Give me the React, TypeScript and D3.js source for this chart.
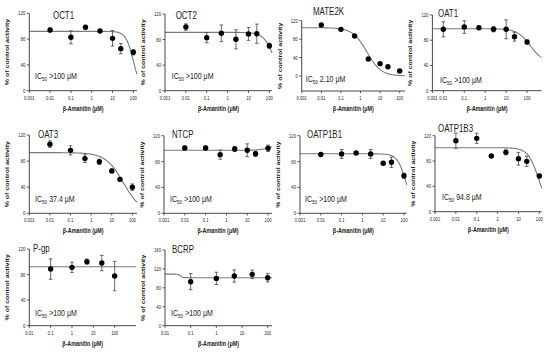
import React from "react";
import * as d3 from "d3";

// ---------- data ----------
const CONC7 = [0.01, 0.1, 0.5, 2.5, 10, 25, 100];
const CONC5 = [0.1, 1, 5, 25, 100];

const X_TICKS_A = [0.001, 0.01, 0.1, 1, 10, 100];
const X_TICKS_B = [0.01, 0.1, 1, 10, 100];
const Y_TICKS_120 = [0, 40, 80, 120];
const Y_TICKS_160 = [0, 40, 80, 120, 160];

const OCT1_VAL = [94.1, 82.8, 98.3, 92.6, 81.2, 65.2, 59.5];
const OCT1_ERR = [3, 10, 3, 2, 12, 8, 4];
const OCT1_FIT = [92, 0, 100, 2.4];

const OCT2_VAL = [99.6, 83, 89.8, 80.4, 88.8, 89.2, 70.4];
const OCT2_ERR = [5, 8, 13, 15, 10, 15, 4];
const OCT2_FIT = [91.3, 0, 190, 1.7];

const MATE2K_VAL = [110.6, 101.2, 86.8, 36.9, 26.8, 20.2, 10.8];
const MATE2K_ERR = [1.5, 1.5, 1.5, 1.5, 1.5, 1.5, 1.5];
const MATE2K_FIT = [104.8, 0, 2.1, 1.2];

const OAT1_VAL = [97.3, 100.9, 99.8, 97.3, 97.3, 85.6, 77.2];
const OAT1_ERR = [12, 10, 2, 4, 15, 7, 3];
const OAT1_FIT = [98.3, 45, 140, 1.4];

const OAT3_VAL = [106, 96.5, 83.8, 79, 65, 52, 40];
const OAT3_ERR = [5, 7, 6, 4, 3, 3, 5];
const OAT3_FIT = [93, 0, 37.4, 1];

const NTCP_VAL = [101, 101, 90.7, 99.5, 97.4, 92, 100.5];
const NTCP_ERR = [3, 3, 7, 4, 10, 4, 5];
const NTCP_FIT = [97.5, 105, 100, 2];

const OATP1B1_VAL = [91, 91.7, 93.3, 91.7, 77.3, 79, 58];
const OATP1B1_ERR = [2, 7, 2, 7, 2, 8, 4];
const OATP1B1_FIT = [92, 0, 129, 2.1];

const OATP1B3_VAL = [112, 115.8, 87.9, 93.7, 83.7, 79.5, 56.3];
const OATP1B3_ERR = [12, 8, 2, 4, 10, 8, 3];
const OATP1B3_FIT = [101, 0, 94.8, 1.7];

const PGP_VAL = [88.6, 91.3, 100.2, 98, 77.7];
const PGP_ERR = [16, 8, 4, 12, 23];
const PGP_FIT = [92.3, 92.3, 1, 1];

const BCRP_VAL = [93, 100, 105, 108.5, 101.5];
const BCRP_ERR = [17, 13, 13, 9, 9];
const BCRP_FIT = [109, 101.5, 0.04, 10];

const IC_LABELS = [">100 μM", ">100 μM", "2.10 μM", ">100 μM", "37.4 μM", ">100 μM", ">100 μM", "94.8 μM", ">100 μM", ">100 μM"];
const NAMES = ["OCT1", "OCT2", "MATE2K", "OAT1", "OAT3", "NTCP", "OATP1B1", "OATP1B3", "P-gp", "BCRP"];

// ---------- layout ----------
const LAYOUT = [
  { left: 29.3, right: 137, xMin: 0.001, xMax: 150, yMin: 0, yMax: 120, yTop: 13.3, yBot: 90.7, titleX: 53, titleY: 19, icX: 35, icY: 78.5 },
  { left: 165, right: 272, xMin: 0.001, xMax: 134, yMin: 0, yMax: 120, yTop: 14, yBot: 90.7, titleX: 175.7, titleY: 18.5, icX: 171.7, icY: 78.5 },
  { left: 301.7, right: 405, xMin: 0.001, xMax: 186, yMin: -32.5, yMax: 120, yTop: 20.7, yBot: 91, titleX: 313, titleY: 15, icX: 305.7, icY: 82 },
  { left: 432.4, right: 541.7, xMin: 0.003, xMax: 500, yMin: 0, yMax: 120, yTop: 15, yBot: 90.7, titleX: 438, titleY: 17, icX: 440, icY: 82.5 },
  { left: 29.3, right: 137, xMin: 0.001, xMax: 168, yMin: 0, yMax: 120, yTop: 135, yBot: 213.3, titleX: 38, titleY: 138.3, icX: 35, icY: 202 },
  { left: 164, right: 272, xMin: 0.001, xMax: 155, yMin: 0, yMax: 120, yTop: 135.7, yBot: 213.3, titleX: 172, titleY: 137.5, icX: 170, icY: 202 },
  { left: 300, right: 406.7, xMin: 0.001, xMax: 135, yMin: 0, yMax: 120, yTop: 135.7, yBot: 213.3, titleX: 307, titleY: 137.5, icX: 305, icY: 202 },
  { left: 435, right: 541.7, xMin: 0.001, xMax: 130, yMin: 0, yMax: 120, yTop: 135.7, yBot: 211.7, titleX: 438, titleY: 132, icX: 442, icY: 200 },
  { left: 29.3, right: 136, xMin: 0.01, xMax: 1000, yMin: 0, yMax: 120, yTop: 249, yBot: 325.7, titleX: 33, titleY: 252, icX: 35, icY: 315.5 },
  { left: 165, right: 272, xMin: 0.01, xMax: 147, yMin: 0, yMax: 160, yTop: 250, yBot: 325.7, titleX: 172, titleY: 253, icX: 171, icY: 315.5 },
];

const SERIES = [
  { conc: CONC7, val: OCT1_VAL, err: OCT1_ERR, fit: OCT1_FIT, xt: X_TICKS_A, yt: Y_TICKS_120 },
  { conc: CONC7, val: OCT2_VAL, err: OCT2_ERR, fit: OCT2_FIT, xt: X_TICKS_A, yt: Y_TICKS_120 },
  { conc: CONC7, val: MATE2K_VAL, err: MATE2K_ERR, fit: MATE2K_FIT, xt: X_TICKS_A, yt: Y_TICKS_120 },
  { conc: CONC7, val: OAT1_VAL, err: OAT1_ERR, fit: OAT1_FIT, xt: X_TICKS_A, yt: Y_TICKS_120 },
  { conc: CONC7, val: OAT3_VAL, err: OAT3_ERR, fit: OAT3_FIT, xt: X_TICKS_A, yt: Y_TICKS_120 },
  { conc: CONC7, val: NTCP_VAL, err: NTCP_ERR, fit: NTCP_FIT, xt: X_TICKS_A, yt: Y_TICKS_120 },
  { conc: CONC7, val: OATP1B1_VAL, err: OATP1B1_ERR, fit: OATP1B1_FIT, xt: X_TICKS_A, yt: Y_TICKS_120 },
  { conc: CONC7, val: OATP1B3_VAL, err: OATP1B3_ERR, fit: OATP1B3_FIT, xt: X_TICKS_A, yt: Y_TICKS_120 },
  { conc: CONC5, val: PGP_VAL, err: PGP_ERR, fit: PGP_FIT, xt: X_TICKS_B, yt: Y_TICKS_120 },
  { conc: CONC5, val: BCRP_VAL, err: BCRP_ERR, fit: BCRP_FIT, xt: X_TICKS_B, yt: Y_TICKS_160 },
];

const FONT = "'Liberation Sans', Arial, sans-serif";
const SX = 0.72;
const INK = "#1c1c1c";

function T({ x, y, size, children, anchor = "start", weight = "normal", rotate = false, sx = SX, fill = INK }: any) {
  const tf = rotate
    ? `translate(${x},${y}) rotate(-90) scale(1,${sx})`
    : `translate(${x},${y}) scale(${sx},1)`;
  return (
    <text transform={tf} fontSize={size} textAnchor={anchor} fontWeight={weight} fill={fill} fontFamily={FONT}>
      {children}
    </text>
  );
}

function hill(fit: number[], x: number) {
  const [top, bottom, ec, h] = fit;
  return bottom + (top - bottom) / (1 + Math.pow(x / ec, h));
}

function Panel({ idx }: { idx: number }) {
  const L = LAYOUT[idx];
  const S = SERIES[idx];
  const x = d3.scaleLog().domain([L.xMin, L.xMax]).range([L.left, L.right]).clamp(true);
  const y = d3.scaleLinear().domain([L.yMin, L.yMax]).range([L.yBot, L.yTop]);
  const axisY = y(L.yMin);
  const lmin = Math.log10(L.xMin);
  const lmax = Math.log10(L.xMax);
  const samples = d3.range(0, 201).map((i) => Math.pow(10, lmin + ((lmax - lmin) * i) / 200));
  const line = d3
    .line<number>()
    .x((d) => x(d))
    .y((d) => y(hill(S.fit, d)));
  const midY = (y(L.yMax) + axisY) / 2;
  const cx = (L.left + L.right) / 2;
  return (
    <g>
      <path d={line(samples) || ""} fill="none" stroke="#7a7a7a" strokeWidth={1.1} />
      <line x1={L.left} x2={L.left} y1={y(L.yMax)} y2={axisY} stroke="#333" strokeWidth={0.9} />
      <line x1={L.left} x2={L.right} y1={axisY} y2={axisY} stroke="#333" strokeWidth={0.9} />
      {S.yt.map((t: number) => (
        <g key={"yt" + t}>
          <line x1={L.left - 2.5} x2={L.left} y1={y(t)} y2={y(t)} stroke="#333" strokeWidth={0.8} />
          <T x={L.left - 4} y={y(t) + 2} size={5.8} anchor="end">{t}</T>
        </g>
      ))}
      {S.xt.map((t: number) => (
        <g key={"xt" + t}>
          <line x1={x(t)} x2={x(t)} y1={axisY} y2={axisY + 2.2} stroke="#333" strokeWidth={0.8} />
          <T x={x(t)} y={axisY + 9} size={5.8} anchor="middle">{String(t)}</T>
        </g>
      ))}
      {S.conc.map((c: number, i: number) => {
        const px = x(c);
        const v = S.val[i];
        const e = S.err[i];
        return (
          <g key={"p" + i}>
            <line x1={px} x2={px} y1={y(v - e)} y2={y(v + e)} stroke="#444" strokeWidth={0.8} />
            <line x1={px - 1.8} x2={px + 1.8} y1={y(v - e)} y2={y(v - e)} stroke="#444" strokeWidth={0.8} />
            <line x1={px - 1.8} x2={px + 1.8} y1={y(v + e)} y2={y(v + e)} stroke="#444" strokeWidth={0.8} />
            <circle cx={px} cy={y(v)} r={2.7} fill="#000" />
          </g>
        );
      })}
      <T x={L.titleX} y={L.titleY} size={11}>{NAMES[idx]}</T>
      <T x={L.left - 20} y={midY} size={7} weight="bold" anchor="middle" rotate>% of control activity</T>
      <T x={cx} y={axisY + 20} size={7.5} weight="bold" anchor="middle">β-Amanitin (μM)</T>
      <g transform={`translate(${L.icX},${L.icY}) scale(0.78,1)`}>
        <text fontSize={9} fill={INK} fontFamily={FONT}>
          IC<tspan fontSize={6} dy={2}>50</tspan>
          <tspan dy={-2}> {IC_LABELS[idx]}</tspan>
        </text>
      </g>
    </g>
  );
}

export default function App() {
  return (
    <svg
      width={550}
      height={352}
      viewBox="0 0 550 352"
      style={{ position: "absolute", left: 0, top: 0, background: "#fff" }}
    >
      <rect x={0} y={0} width={550} height={352} fill="#fff" />
      {NAMES.map((_, i) => (
        <Panel key={i} idx={i} />
      ))}
    </svg>
  );
}
